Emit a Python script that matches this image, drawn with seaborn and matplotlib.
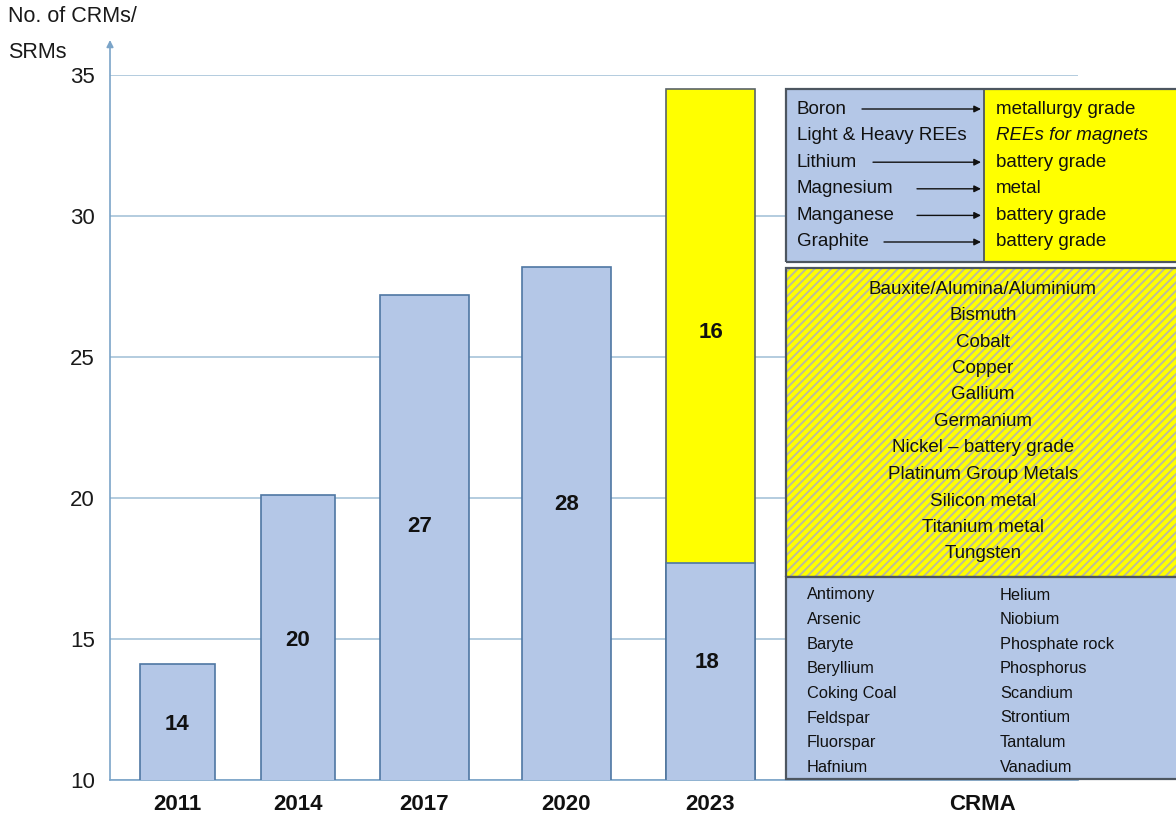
import matplotlib
matplotlib.use("Agg")
import matplotlib.pyplot as plt
from matplotlib.patches import Rectangle
import seaborn as sns
import pandas as pd

# ---------------- data ----------------
years = ["2011", "2014", "2017", "2020", "2023"]
bar_tops = [14.1, 20.1, 27.2, 28.2, 17.7]      # blue bar tops
bar_labels = ["14", "20", "27", "28", "18"]
new_2023_top = 34.5                              # top of yellow (new) segment in 2023
new_2023_label = "16"
y_ticks = [10, 15, 20, 25, 30, 35]

upgraded_from = ["Boron", "Light & Heavy REEs", "Lithium", "Magnesium", "Manganese", "Graphite"]
upgraded_to = ["metallurgy grade", "REEs for magnets", "battery grade", "metal", "battery grade", "battery grade"]
has_arrow = [True, False, True, True, True, True]
new_materials = ["Bauxite/Alumina/Aluminium", "Bismuth", "Cobalt", "Copper", "Gallium", "Germanium",
                 "Nickel \u2013 battery grade", "Platinum Group Metals", "Silicon metal",
                 "Titanium metal", "Tungsten"]
kept_col1 = ["Antimony", "Arsenic", "Baryte", "Beryllium", "Coking Coal", "Feldspar", "Fluorspar", "Hafnium"]
kept_col2 = ["Helium", "Niobium", "Phosphate rock", "Phosphorus", "Scandium", "Strontium", "Tantalum", "Vanadium"]

# ---------------- layout (pixels of the 1176x817 canvas) ----------------
W, H = 1176, 817
AX_L, AX_R, AX_T, AX_B = 110, 1078, 75, 780
bar_centers = [67.5, 188, 314.5, 456.5, 600.5]   # offset from axis origin
bar_widths = [75, 74, 89, 89, 89]
label_x_shift = [0, 0, -5, 0, -4]
label_y_px = [725, 641, 526, 505, 662]
new_label_y_px = 333
crma_center = 872
arrow_start_px = [862, 0, 873, 917, 917, 884]

BLUE = "#b4c7e7"
BAR_EDGE = "#4f77a3"
YELLOW = "#ffff00"
BOX_EDGE = "#4d5660"
GRID = "#9fbfd6"
AXIS = "#7ba4c8"

sns.set_theme(style="white")
plt.rcParams["font.family"] = ["Liberation Sans", "DejaVu Sans"]
plt.rcParams["hatch.linewidth"] = 1.4

fig = plt.figure(figsize=(W / 100, H / 100), dpi=100)
ax = fig.add_axes([AX_L / W, 1 - AX_B / H, (AX_R - AX_L) / W, (AX_B - AX_T) / H])

df = pd.DataFrame({"year": years, "top": bar_tops})
df_new = pd.DataFrame({"year": [years[-1]], "top": [new_2023_top]})

sns.barplot(data=df_new, x="year", y="top", order=years, color=YELLOW, saturation=1,
            edgecolor="#5a6468", linewidth=1.2, ax=ax, zorder=2)
sns.barplot(data=df, x="year", y="top", order=years, color=BLUE, saturation=1,
            edgecolor=BAR_EDGE, linewidth=1.2, ax=ax, zorder=3)

for p in ax.patches:
    idx = int(round(p.get_x() + p.get_width() / 2))
    w = bar_widths[idx]
    p.set_x(bar_centers[idx] - w / 2)
    p.set_width(w)

ax.set_xlim(0, AX_R - AX_L)
ax.set_ylim(10, 35)
ax.set_yticks(y_ticks)
ax.set_yticklabels([str(t) for t in y_ticks], fontsize=16)
ax.set_xticks(bar_centers + [crma_center])
ax.set_xticklabels(years + ["CRMA"], fontsize=16, fontweight="bold")
ax.tick_params(axis="y", length=0, pad=11, colors="#1a1a1a")
ax.tick_params(axis="x", length=0, pad=10, colors="#111111")
ax.set_xlabel("")
ax.set_ylabel("")
ax.yaxis.grid(True, color=GRID, lw=1.1, zorder=0)
ax.set_axisbelow(True)
for s in ["top", "right", "left"]:
    ax.spines[s].set_visible(False)
ax.spines["bottom"].set_color(AXIS)
ax.spines["bottom"].set_linewidth(1.2)
ax.annotate("", xy=(0, (AX_B - 40) / (AX_B - AX_T)), xytext=(0, 0), xycoords="axes fraction",
            arrowprops=dict(arrowstyle="-|>", color=AXIS, lw=1.2, mutation_scale=10,
                            shrinkA=0, shrinkB=0), annotation_clip=False)

def px_to_y(py):
    return 10 + (AX_B - py) / (AX_B - AX_T) * 25

# bar value labels
for i, lab in enumerate(bar_labels):
    ax.text(bar_centers[i] + label_x_shift[i], px_to_y(label_y_px[i]), lab, ha="center", va="center",
            fontsize=16, fontweight="bold", color="#111111", zorder=5)
ax.text(bar_centers[-1], px_to_y(new_label_y_px), new_2023_label, ha="center",
        va="center", fontsize=16, fontweight="bold", color="#111111", zorder=5)

# y axis title
fig.text(8 / W, 1 - 17 / H, "No. of CRMs/", fontsize=15.5, va="center", ha="left", color="#1a1a1a")
fig.text(8 / W, 1 - 52 / H, "SRMs", fontsize=15.5, va="center", ha="left", color="#1a1a1a")

# ---------------- right-hand panel ----------------
def fx(x):
    return x / W

def fy(y):
    return 1 - y / H

def rect(x0, y0, x1, y1, **kw):
    r = Rectangle((fx(x0), fy(y1)), (x1 - x0) / W, (y1 - y0) / H, transform=fig.transFigure, **kw)
    fig.add_artist(r)
    return r

PX0, PX1, DIV = 786, 1180, 984
# top box: upgraded materials
rect(PX0, 89, DIV, 262, facecolor=BLUE, edgecolor="none")
rect(DIV, 89, PX1, 262, facecolor=YELLOW, edgecolor="none")
rect(PX0, 89, PX1, 262, fill=False, edgecolor=BOX_EDGE, lw=1.6)
fig.add_artist(plt.Line2D([fx(DIV), fx(DIV)], [fy(89), fy(262)], transform=fig.transFigure,
                          color=BOX_EDGE, lw=1.3))
for i, (a, b) in enumerate(zip(upgraded_from, upgraded_to)):
    y = 109 + i * 26.6
    fig.text(fx(797), fy(y), a, fontsize=13.5, va="center", ha="left", color="#111111")
    fig.text(fx(996), fy(y), b, fontsize=13.5, va="center", ha="left", color="#111111",
             style="italic" if i == 1 else "normal")
    if has_arrow[i]:
        fig.add_artist(matplotlib.patches.FancyArrowPatch(
            (fx(arrow_start_px[i]), fy(y)), (fx(DIV - 3), fy(y)), transform=fig.transFigure,
            arrowstyle="-|>", mutation_scale=10, color="#111111", lw=1.0, shrinkA=0, shrinkB=0))

# middle box: new strategic/critical materials (hatched)
rect(PX0, 268, PX1, 577, facecolor=YELLOW, edgecolor="none")
rect(PX0, 268, PX1, 577, facecolor="none", edgecolor="#bcbc9c", hatch="////", lw=0)
rect(PX0, 268, PX1, 577, fill=False, edgecolor=BOX_EDGE, lw=1.6)
for i, name in enumerate(new_materials):
    fig.text(fx(983), fy(289 + i * 26.5), name, fontsize=13.5, va="center", ha="center", color="#111111")

# bottom box: remaining materials
rect(PX0, 577, PX1, 779, facecolor=BLUE, edgecolor=BOX_EDGE, lw=1.6)
for i, (a, b) in enumerate(zip(kept_col1, kept_col2)):
    y = 595 + i * 24.6
    fig.text(fx(807), fy(y), a, fontsize=11.8, va="center", ha="left", color="#111111")
    fig.text(fx(1000), fy(y), b, fontsize=11.8, va="center", ha="left", color="#111111")

fig.savefig("out.png", dpi=100)
